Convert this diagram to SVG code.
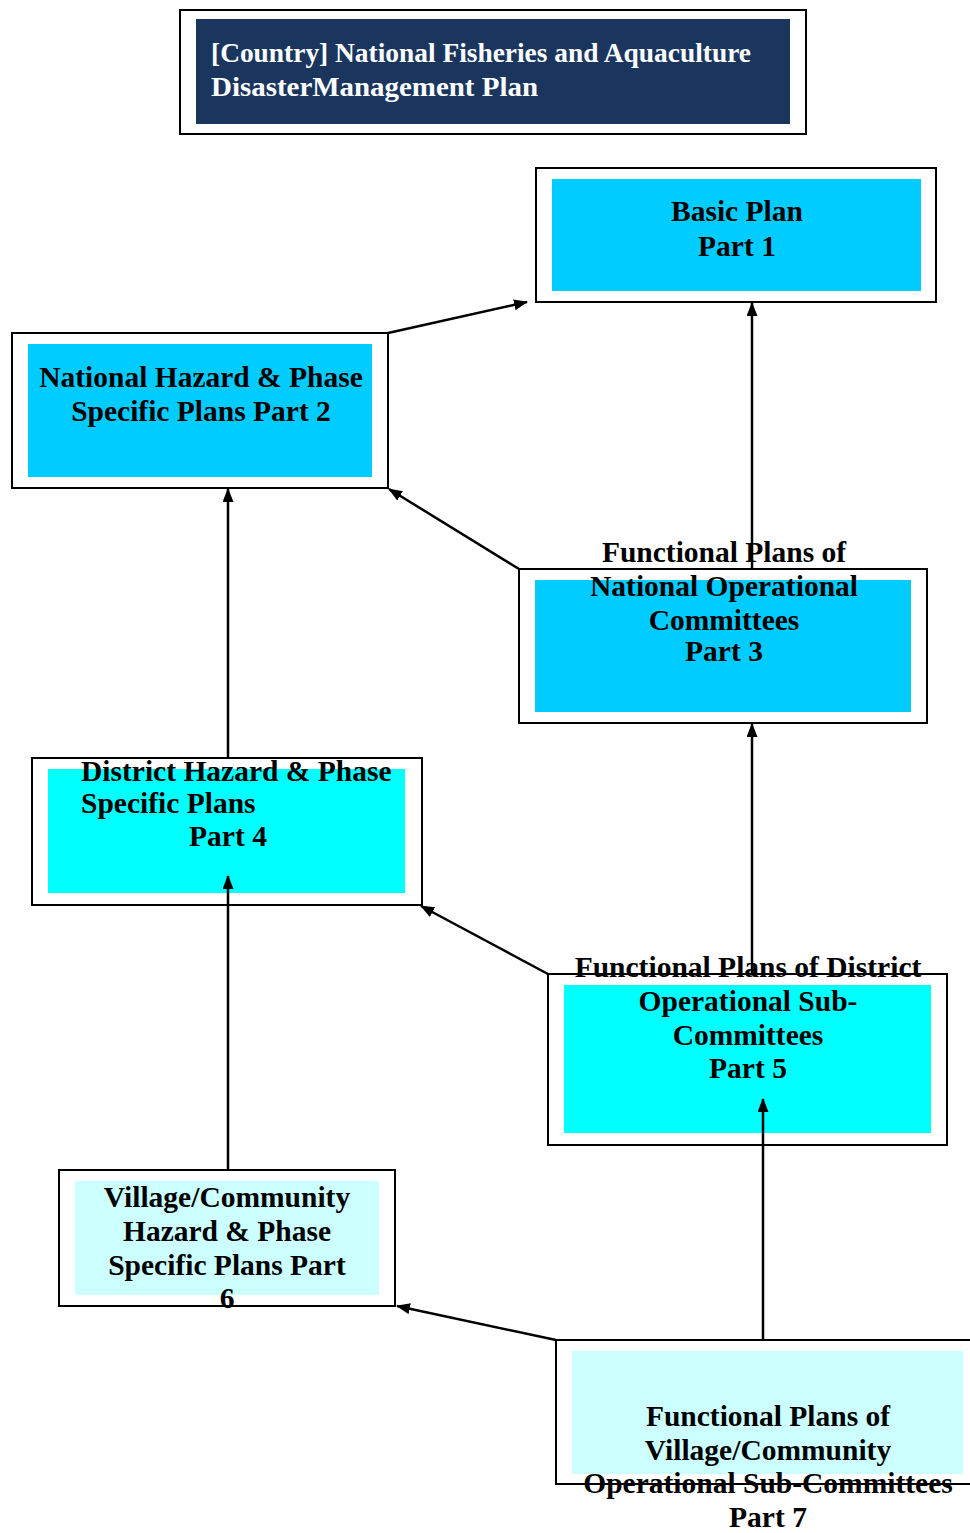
<svg xmlns="http://www.w3.org/2000/svg" width="970" height="1533" viewBox="0 0 970 1533">
<style>
.frame{fill:#ffffff;stroke:#000000;stroke-width:2}
.lbl{font-family:"Liberation Serif","Times New Roman",serif;font-weight:bold;font-size:29.5px;fill:#000000}
.c{text-anchor:middle}
.title{font-family:"Liberation Serif","Times New Roman",serif;font-weight:bold;font-size:27px;fill:#ffffff}
.conn{stroke:#000000;stroke-width:2.5;fill:none;marker-end:url(#arr)}
</style>
<defs>
<marker id="arr" viewBox="0 0 14 11" refX="13" refY="5.5" markerWidth="14" markerHeight="11" markerUnits="userSpaceOnUse" orient="auto">
<path d="M0,0 L14,5.5 L0,11 Z" fill="#000000"/>
</marker>
</defs>
<rect width="970" height="1533" fill="#ffffff"/>
<g id="title">
<rect class="frame" x="180" y="10" width="626" height="124"/>
<rect x="196" y="19" width="594" height="105" fill="#1a365f"/>
<text class="title" x="211" y="62" textLength="540" lengthAdjust="spacingAndGlyphs">[Country] National Fisheries and Aquaculture</text>
<text class="title" x="211" y="96" textLength="327" lengthAdjust="spacingAndGlyphs">DisasterManagement Plan</text>
</g>
<g id="node1">
<rect class="frame" x="536" y="168" width="400" height="134"/>
<rect x="552" y="179" width="369" height="112" fill="#00ccff"/>
<text class="lbl c" x="737" y="221">Basic Plan</text>
<text class="lbl c" x="737" y="256">Part 1</text>
</g>
<g id="node2">
<rect class="frame" x="12" y="333" width="376" height="155"/>
<rect x="28" y="344" width="344" height="133" fill="#00ccff"/>
<text class="lbl c" x="201" y="387">National Hazard &amp; Phase</text>
<text class="lbl c" x="201" y="421">Specific Plans Part 2</text>
</g>
<g id="node3">
<rect class="frame" x="519" y="569" width="408" height="154"/>
<rect x="535" y="580" width="376" height="132" fill="#00ccff"/>
<text class="lbl c" x="724" y="562">Functional Plans of</text>
<text class="lbl c" x="724" y="596">National Operational</text>
<text class="lbl c" x="724" y="630">Committees</text>
<text class="lbl c" x="724" y="661">Part 3</text>
</g>
<g id="node4">
<rect class="frame" x="32" y="758" width="390" height="147"/>
<rect x="48" y="769" width="357" height="124" fill="#00ffff"/>
<text class="lbl" x="81" y="781">District Hazard &amp; Phase</text>
<text class="lbl" x="81" y="813">Specific Plans</text>
<text class="lbl c" x="228" y="846">Part 4</text>
</g>
<g id="node5">
<rect class="frame" x="548" y="974" width="399" height="171"/>
<rect x="564" y="985" width="367" height="148" fill="#00ffff"/>
<text class="lbl c" x="748" y="977">Functional Plans of District</text>
<text class="lbl c" x="748" y="1011">Operational Sub-</text>
<text class="lbl c" x="748" y="1045">Committees</text>
<text class="lbl c" x="748" y="1078">Part 5</text>
</g>
<g id="node6">
<rect class="frame" x="59" y="1170" width="336" height="136"/>
<rect x="75" y="1181" width="304" height="114" fill="#ccffff"/>
<text class="lbl c" x="227" y="1207">Village/Community</text>
<text class="lbl c" x="227" y="1241">Hazard &amp; Phase</text>
<text class="lbl c" x="227" y="1275">Specific Plans Part</text>
<text class="lbl c" x="227" y="1308">6</text>
</g>
<g id="node7">
<rect class="frame" x="556" y="1340" width="420" height="144"/>
<rect x="572" y="1351" width="391" height="123" fill="#ccffff"/>
<text class="lbl c" x="768" y="1426">Functional Plans of</text>
<text class="lbl c" x="768" y="1460">Village/Community</text>
<text class="lbl c" x="768" y="1493">Operational Sub-Committees</text>
<text class="lbl c" x="768" y="1527">Part 7</text>
</g>
<g id="connectors">
<line class="conn" x1="388" y1="333" x2="527" y2="302"/>
<line class="conn" x1="752" y1="569" x2="752" y2="303"/>
<line class="conn" x1="519" y1="569" x2="389" y2="489"/>
<line class="conn" x1="228" y1="758" x2="228" y2="489"/>
<line class="conn" x1="752" y1="974" x2="752" y2="724"/>
<line class="conn" x1="548" y1="974" x2="421" y2="906"/>
<line class="conn" x1="228" y1="1170" x2="228" y2="876"/>
<line class="conn" x1="763" y1="1340" x2="763" y2="1099"/>
<line class="conn" x1="556" y1="1340" x2="397" y2="1306"/>
</g>
</svg>
